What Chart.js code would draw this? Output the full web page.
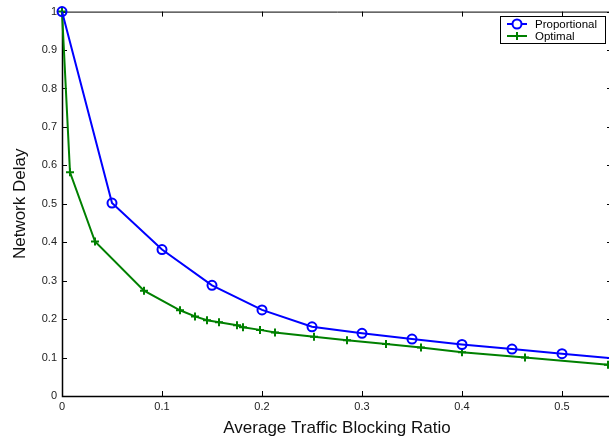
<!DOCTYPE html>
<html>
<head>
<meta charset="utf-8">
<script src="https://cdn.jsdelivr.net/npm/chart.js@4/dist/chart.umd.min.js"></script>
<style>
  html, body { margin: 0; padding: 0; background: #fff; overflow: hidden; width: 609px; height: 441px; }
  #caixa { width: 620px; height: 441px; }
</style>
</head>
<body>
<div id="caixa"><canvas id="grafico" width="620" height="441"></canvas></div>
<script>
// dados
const propX = [0, 0.05, 0.1, 0.15, 0.2, 0.25, 0.3, 0.35, 0.4, 0.45, 0.5, 0.56];
const propY = [1.0, 0.502, 0.381, 0.288, 0.224, 0.180, 0.163, 0.148, 0.134, 0.122, 0.110, 0.096];
const optX = [0, 0.008, 0.033, 0.082, 0.118, 0.133, 0.145, 0.157, 0.175, 0.181, 0.198, 0.213, 0.252, 0.285, 0.324, 0.359, 0.400, 0.463, 0.546];
const optY = [1.0, 0.582, 0.402, 0.274, 0.223, 0.207, 0.197, 0.192, 0.184, 0.179, 0.172, 0.165, 0.154, 0.145, 0.135, 0.126, 0.114, 0.100, 0.081];
const xTicks = [0, 0.1, 0.2, 0.3, 0.4, 0.5];
const yTicks = [0, 0.1, 0.2, 0.3, 0.4, 0.5, 0.6, 0.7, 0.8, 0.9, 1];
const nomes = ['Proportional', 'Optimal'];

const fonte = "'Liberation Sans', Arial, sans-serif";

function formatar(v) {
  if (v === 0 || v === 1) return String(v);
  return v.toFixed(1);
}

// moldura estilo matlab, ticks pra dentro
const moldura = {
  id: 'moldura',
  beforeDatasetsDraw(chart) {
    const c = chart.ctx;
    const a = chart.chartArea;
    const sx = chart.scales.x, sy = chart.scales.y;
    c.save();
    c.strokeStyle = '#000';
    c.lineWidth = 1;
    c.beginPath();
    c.moveTo(a.left + 0.5, a.top + 0.5);
    c.lineTo(a.right + 0.5, a.top + 0.5);
    c.lineTo(a.right + 0.5, a.bottom + 0.5);
    c.lineTo(a.left + 0.5, a.bottom + 0.5);
    c.closePath();
    c.stroke();
    c.lineWidth = 1.5;
    c.beginPath();
    c.moveTo(a.left + 0.5, a.top);
    c.lineTo(a.left + 0.5, a.bottom + 0.5);
    c.lineTo(a.right, a.bottom + 0.5);
    c.stroke();
    c.lineWidth = 1;
    c.beginPath();
    xTicks.forEach(v => {
      const px = Math.round(sx.getPixelForValue(v)) + 0.5;
      c.moveTo(px, a.bottom); c.lineTo(px, a.bottom - 5);
      c.moveTo(px, a.top); c.lineTo(px, a.top + 5);
    });
    yTicks.forEach(v => {
      const py = Math.round(sy.getPixelForValue(v)) + 0.5;
      c.moveTo(a.left, py); c.lineTo(a.left + 5, py);
      c.moveTo(a.right, py); c.lineTo(a.right - 5, py);
    });
    c.stroke();
    c.restore();
  }
};

// legenda com linha + marcador
const legenda = {
  id: 'legenda',
  afterDraw(chart) {
    const c = chart.ctx;
    const bx = 500, by = 16, bw = 105, bh = 27;
    c.save();
    c.fillStyle = '#fff';
    c.fillRect(bx, by, bw, bh);
    c.strokeStyle = '#000';
    c.lineWidth = 1;
    c.strokeRect(bx + 0.5, by + 0.5, bw, bh);
    c.font = '11.5px ' + fonte;
    c.textBaseline = 'middle';
    chart.data.datasets.forEach((ds, i) => {
      const y = by + 8 + i * 12;
      c.strokeStyle = ds.borderColor;
      c.lineWidth = 2;
      c.beginPath();
      c.moveTo(bx + 7, y); c.lineTo(bx + 27, y);
      c.stroke();
      Chart.helpers.drawPoint(c, {
        pointStyle: ds.pointStyle, radius: ds.pointRadius, borderWidth: 2
      }, bx + 17, y);
      c.fillStyle = '#000';
      c.fillText(ds.label, bx + 35, y + 0.5);
    });
    c.restore();
  }
};

new Chart(document.getElementById('grafico'), {
  type: 'line',
  data: {
    datasets: [{
      label: nomes[0],
      data: propX.map((x, i) => ({ x: x, y: propY[i] })),
      borderColor: '#0000ff',
      backgroundColor: 'rgba(0,0,0,0)',
      borderWidth: 2,
      pointStyle: 'circle',
      pointRadius: 4.5,
      pointBorderWidth: 2,
      tension: 0,
      clip: false
    }, {
      label: nomes[1],
      data: optX.map((x, i) => ({ x: x, y: optY[i] })),
      borderColor: '#008000',
      backgroundColor: 'rgba(0,0,0,0)',
      borderWidth: 2,
      pointStyle: 'cross',
      pointRadius: 4,
      pointBorderWidth: 2,
      tension: 0,
      clip: false
    }]
  },
  options: {
    responsive: false,
    animation: false,
    layout: { padding: { top: 11, left: 0, right: 8, bottom: 0 } },
    plugins: {
      legend: { display: false },
      tooltip: { enabled: false }
    },
    scales: {
      x: {
        type: 'linear',
        min: 0,
        max: 0.55,
        afterBuildTicks: s => { s.ticks = xTicks.map(v => ({ value: v })); },
        afterFit: s => { s.height = 45; },
        grid: { display: false, drawTicks: false },
        border: { display: false },
        ticks: {
          padding: 4,
          color: '#222',
          font: { family: fonte, size: 11 },
          callback: v => formatar(v)
        },
        title: {
          display: true,
          text: 'Average Traffic Blocking Ratio',
          color: '#111',
          font: { family: fonte, size: 17 },
          padding: { top: 0, bottom: 2 }
        }
      },
      y: {
        type: 'linear',
        min: 0,
        max: 1,
        afterBuildTicks: s => { s.ticks = yTicks.map(v => ({ value: v })); },
        afterFit: s => { s.width = 62; },
        grid: { display: false, drawTicks: false },
        border: { display: false },
        ticks: {
          padding: 5,
          color: '#222',
          font: { family: fonte, size: 11 },
          callback: v => formatar(v)
        },
        title: {
          display: true,
          text: 'Network Delay',
          color: '#111',
          font: { family: fonte, size: 17 },
          padding: { top: 10, bottom: 0 }
        }
      }
    }
  },
  plugins: [moldura, legenda]
});
</script>
</body>
</html>
